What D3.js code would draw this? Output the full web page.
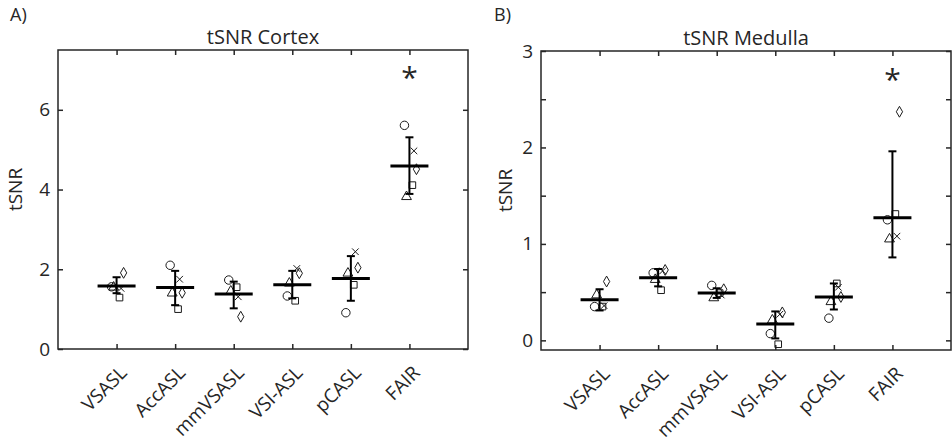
<!DOCTYPE html>
<html>
<head>
<meta charset="utf-8">
<script src="https://cdn.jsdelivr.net/npm/d3@7"></script>
<style>
  body { margin: 0; background: #fff; }
  svg text { font-family: "Open Sans", "Noto Sans", sans-serif; fill: #262626; }
</style>
</head>
<body>
<div id="chart"></div>
<script>
// categories on the x axis
var categories = ["VSASL", "AccASL", "mmVSASL", "VSI-ASL", "pCASL", "FAIR"];

// tSNR cortex, one value per subject marker
var cortexCircle   = [1.56, 2.10, 1.73, 1.33, 0.91, 5.61];
var cortexTriangle = [1.55, 1.40, 1.45, 1.65, 1.90, 3.82];
var cortexSquare   = [1.29, 1.00, 1.55, 1.21, 1.61, 4.11];
var cortexCross    = [1.52, 1.75, 1.31, 2.02, 2.44, 4.97];
var cortexDiamond  = [1.91, 1.41, 0.81, 1.90, 2.04, 4.51];
var cortexMean     = [1.58, 1.54, 1.38, 1.61, 1.77, 4.59];
var cortexErrLow   = [1.40, 1.10, 1.02, 1.27, 1.21, 3.89];
var cortexErrHigh  = [1.80, 1.96, 1.69, 1.96, 2.33, 5.31];
var cortexStar     = 6.95;

// tSNR medulla
var medullaCircle   = [0.35, 0.70, 0.57, 0.07, 0.23, 1.25];
var medullaTriangle = [0.47, 0.63, 0.44, 0.21, 0.40, 1.05];
var medullaSquare   = [0.35, 0.52, 0.49, -0.04, 0.59, 1.31];
var medullaCross    = [0.36, 0.72, 0.47, 0.27, 0.55, 1.08];
var medullaDiamond  = [0.61, 0.73, 0.53, 0.29, 0.45, 2.37];
var medullaMean     = [0.42, 0.65, 0.49, 0.17, 0.45, 1.27];
var medullaErrLow   = [0.31, 0.56, 0.44, 0.02, 0.32, 0.86];
var medullaErrHigh  = [0.53, 0.74, 0.54, 0.30, 0.59, 1.96];
var medullaStar     = 2.76;

var starIndex = 5; // FAIR

var cortexTicks = [0, 2, 4, 6];
var medullaTicks = [0, 0.5, 1, 1.5, 2, 2.5, 3];

var width = 952, height = 445;
var fontSize = "19px";

var svg = d3.select("#chart").append("svg")
    .attr("width", width)
    .attr("height", height);

// small horizontal jitter of each marker type (x units)
var markerOffset = { circle: -0.085, triangle: -0.05, square: 0.05, cross: 0.077, diamond: 0.12 };

function markerPath(type) {
    if (type == "circle") return d3.symbol().type(d3.symbolCircle).size(56)();
    if (type == "square") return d3.symbol().type(d3.symbolSquare).size(44)();
    if (type == "triangle") return d3.symbol().type(d3.symbolTriangle).size(42)();
    if (type == "diamond") return d3.symbol().type(d3.symbolDiamond).size(34)();
    return "M-3.3,-3.3L3.3,3.3M-3.3,3.3L3.3,-3.3";
}

function drawPanel(opt) {
    var x = d3.scaleLinear().domain([0, 7]).range([opt.left, opt.right]);
    var y = d3.scaleLinear().domain(opt.yDomain).range([opt.bottom, opt.top]);

    var g = svg.append("g");

    // box
    g.append("rect")
        .attr("x", opt.left).attr("y", opt.top)
        .attr("width", opt.right - opt.left).attr("height", opt.bottom - opt.top)
        .attr("fill", "none").attr("stroke", "#262626").attr("stroke-width", 1.5);

    var xTicks = categories.map(function (d, i) { return i + 1; });

    // bottom axis with rotated labels
    var xAxis = g.append("g")
        .attr("transform", "translate(0," + opt.bottom + ")")
        .call(d3.axisBottom(x).tickValues(xTicks).tickSizeInner(-5).tickSizeOuter(0)
            .tickFormat(function (d) { return categories[d - 1]; }));
    xAxis.select(".domain").remove();
    xAxis.selectAll("line").attr("stroke", "#262626").attr("stroke-width", 1.5);
    xAxis.selectAll("text")
        .attr("y", 0).attr("dy", 0)
        .attr("text-anchor", "end")
        .attr("transform", "translate(11,25) rotate(-45)")
        .style("font-size", fontSize).attr("fill", "#262626");

    // top axis, ticks only
    var xTop = g.append("g")
        .attr("transform", "translate(0," + opt.top + ")")
        .call(d3.axisTop(x).tickValues(xTicks).tickSizeInner(-5).tickSizeOuter(0).tickFormat(""));
    xTop.select(".domain").remove();
    xTop.selectAll("line").attr("stroke", "#262626").attr("stroke-width", 1.5);

    // left axis
    var yAxis = g.append("g")
        .attr("transform", "translate(" + opt.left + ",0)")
        .call(d3.axisLeft(y).tickValues(opt.yTicks).tickSizeInner(-5).tickSizeOuter(0).tickPadding(8)
            .tickFormat(function (d) { return d % 1 == 0 ? d : ""; }));
    yAxis.select(".domain").remove();
    yAxis.selectAll("line").attr("stroke", "#262626").attr("stroke-width", 1.5);
    yAxis.selectAll("text").style("font-size", fontSize).attr("fill", "#262626");

    // right axis, ticks only
    var yRight = g.append("g")
        .attr("transform", "translate(" + opt.right + ",0)")
        .call(d3.axisRight(y).tickValues(opt.yTicks).tickSizeInner(-5).tickSizeOuter(0).tickFormat(""));
    yRight.select(".domain").remove();
    yRight.selectAll("line").attr("stroke", "#262626").attr("stroke-width", 1.5);

    // titles
    g.append("text")
        .attr("x", (opt.left + opt.right) / 2).attr("y", opt.top - 6)
        .attr("text-anchor", "middle")
        .style("font-size", "20px")
        .text(opt.title);

    g.append("text")
        .attr("transform", "translate(" + opt.yLabelX + "," + ((opt.top + opt.bottom) / 2 - 10) + ") rotate(-90)")
        .attr("text-anchor", "middle")
        .style("font-size", fontSize)
        .text("tSNR");

    g.append("text")
        .attr("x", opt.letterX).attr("y", 21)
        .style("font-size", "18px")
        .text(opt.letter);

    // subject markers
    opt.series.forEach(function (s) {
        g.selectAll(null)
            .data(s.values)
            .enter().append("path")
            .attr("d", markerPath(s.type))
            .attr("transform", function (d, i) {
                return "translate(" + x(i + 1 + markerOffset[s.type]) + "," + y(d) + ")";
            })
            .attr("fill", "none")
            .attr("stroke", "#1a1a1a")
            .attr("stroke-width", 1);
    });

    // error bars
    var err = g.selectAll(null)
        .data(opt.errLow)
        .enter().append("g");
    err.append("line")
        .attr("x1", function (d, i) { return x(i + 1); })
        .attr("x2", function (d, i) { return x(i + 1); })
        .attr("y1", function (d) { return y(d); })
        .attr("y2", function (d, i) { return y(opt.errHigh[i]); })
        .attr("stroke", "#000").attr("stroke-width", 2);
    [opt.errLow, opt.errHigh].forEach(function (arr) {
        err.append("line")
            .attr("x1", function (d, i) { return x(i + 1) - 4; })
            .attr("x2", function (d, i) { return x(i + 1) + 4; })
            .attr("y1", function (d, i) { return y(arr[i]); })
            .attr("y2", function (d, i) { return y(arr[i]); })
            .attr("stroke", "#000").attr("stroke-width", 2);
    });

    // mean lines
    g.selectAll(null)
        .data(opt.mean)
        .enter().append("line")
        .attr("x1", function (d, i) { return x(i + 1) - 19; })
        .attr("x2", function (d, i) { return x(i + 1) + 19; })
        .attr("y1", function (d) { return y(d); })
        .attr("y2", function (d) { return y(d); })
        .attr("stroke", "#000").attr("stroke-width", 3);

    // significance star
    g.append("text")
        .attr("x", x(starIndex + 1)).attr("y", y(opt.star) + 16)
        .attr("text-anchor", "middle")
        .style("font-size", "30px")
        .attr("fill", "#1a1a1a")
        .text("*");
}

drawPanel({
    left: 58, right: 468, top: 50, bottom: 349,
    yDomain: [0, 7.5], yTicks: cortexTicks,
    title: "tSNR Cortex", letter: "A)", letterX: 10, yLabelX: 22,
    mean: cortexMean, errLow: cortexErrLow, errHigh: cortexErrHigh, star: cortexStar,
    series: [
        { type: "circle", values: cortexCircle },
        { type: "triangle", values: cortexTriangle },
        { type: "square", values: cortexSquare },
        { type: "cross", values: cortexCross },
        { type: "diamond", values: cortexDiamond }
    ]
});

drawPanel({
    left: 541, right: 951, top: 51, bottom: 350,
    yDomain: [-0.1, 3], yTicks: medullaTicks,
    title: "tSNR Medulla", letter: "B)", letterX: 494, yLabelX: 512,
    mean: medullaMean, errLow: medullaErrLow, errHigh: medullaErrHigh, star: medullaStar,
    series: [
        { type: "circle", values: medullaCircle },
        { type: "triangle", values: medullaTriangle },
        { type: "square", values: medullaSquare },
        { type: "cross", values: medullaCross },
        { type: "diamond", values: medullaDiamond }
    ]
});
</script>
</body>
</html>
